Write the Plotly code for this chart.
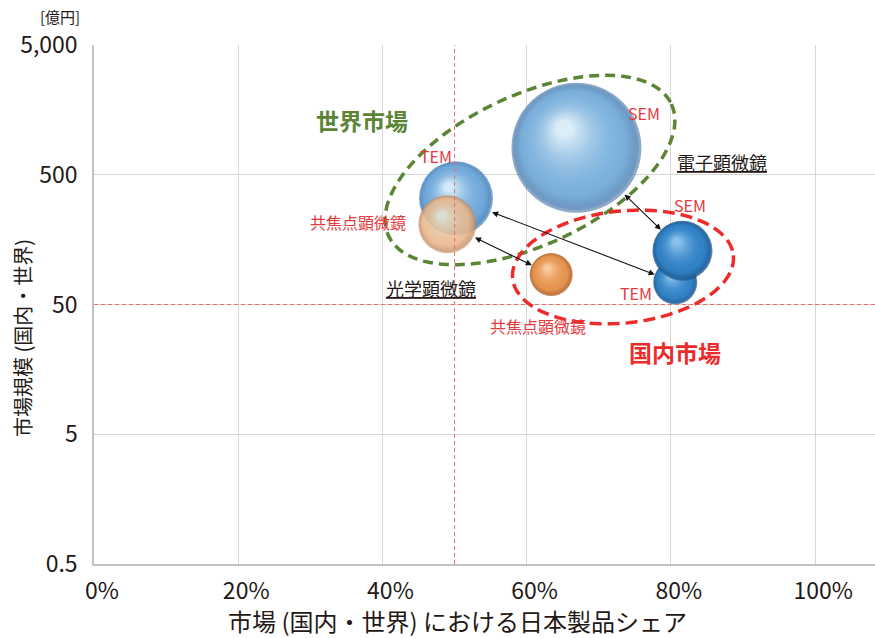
import math
import plotly.graph_objects as go

# ---- data -------------------------------------------------------------
bubble_names = ["TEM（国内）", "SEM（国内）", "光学（国内）", "SEM（世界）", "TEM（世界）", "共焦点（世界）"]
share_pct = [80.6, 81.6, 63.4, 66.9, 50.2, 49.0]          # 日本製品シェア [%]
market_oku = [74, 130, 85, 807, 329, 208]                 # 市場規模 [億円]
bubble_diam = [44, 60, 43, 130, 74, 58]                   # 円の直径 [px]
rim_col = ["#1f5b93", "#1c5589", "#ad6229", "#5e86b2", "#4f84b8", "#bf8960"]
body_col = ["#3383c6", "#3181c5", "#e69450", "#7cb1dc", "#72aadb", "#ebb98f"]
glint_col = ["#94c8ee", "#94caf0", "#f9d3a6", "#e8f5fc", "#def1fb", "#e6ecd8"]
bubble_opacity = [1, 1, 1, 1, 1, 0.88]

x_ticks = [0, 20, 40, 60, 80, 100]
x_tick_text = ["0%", "20%", "40%", "60%", "80%", "100%"]
y_ticks = [0.5, 5, 50, 500, 5000]
y_tick_text = ["0.5", "5", "50", "500", "5,000"]

# pairs (global -> domestic) joined by double arrows
arrow_pairs = [(4, 0), (5, 2), (3, 1)]

# ---- geometry ---------------------------------------------------------
W, H = 875, 638
ML, MR, MT, MB = 94, 0, 45, 74
L, R, T, B = ML, W - MR, MT, H - MB
XR = (0, 108.3)
YR = (math.log10(0.5), math.log10(5000))
DX_PER_PX = (XR[1] - XR[0]) / (R - L)
DLOG_PER_PX = (YR[1] - YR[0]) / (B - T)

FONT = "Noto Sans CJK JP"
TXT = "#231815"
RED = "#e8383d"
GREEN = "#5b8435"


def px_x(x):
    return L + (x - XR[0]) / (XR[1] - XR[0]) * (R - L)


def px_y(y):
    return B - (math.log10(y) - YR[0]) / (YR[1] - YR[0]) * (B - T)


def paper_x(p):
    return (p - L) / (R - L)


def paper_y(p):
    return (B - p) / (B - T)


def hex_rgb(h):
    h = h.lstrip("#")
    return [int(h[k:k + 2], 16) for k in (0, 2, 4)]


def mix(c1, c2, t):
    a, b = hex_rgb(c1), hex_rgb(c2)
    return "#" + "".join(f"{round(a[k] + (b[k] - a[k]) * t):02x}" for k in range(3))


fig = go.Figure()

# spheres: nested discs shrinking toward an upper-left glint give a 3D shading
N_LAYERS = 28
for i in range(len(bubble_names)):
    r = bubble_diam[i] / 2
    hx, hy = -0.22 * r, -0.34 * r          # glint offset in px (screen coords)
    xs, ys, sz, cols = [], [], [], []
    for k in range(N_LAYERS):
        s = 1 - k / N_LAYERS * 0.9        # radius ratio 1 -> 0.1
        t = 1 - s
        if t < 0.18:
            c = mix(rim_col[i], body_col[i], (t / 0.18) ** 0.7)
        else:
            c = mix(body_col[i], glint_col[i], ((t - 0.18) / 0.72) ** 1.8)
        ox, oy = t * hx, t * hy
        xs.append(share_pct[i] + ox * DX_PER_PX)
        ys.append(10 ** (math.log10(market_oku[i]) - oy * DLOG_PER_PX))
        sz.append(bubble_diam[i] * s)
        cols.append(c)
    fig.add_trace(go.Scatter(
        x=xs, y=ys, mode="markers", name=bubble_names[i], opacity=bubble_opacity[i],
        marker=dict(size=sz, color=cols, line=dict(width=0)),
        hoverinfo="name", showlegend=False))

shapes = []
# reference lines at 50% share and 50 億円
shapes.append(dict(type="line", xref="x", yref="paper", x0=50, x1=50, y0=0, y1=1,
                   line=dict(color="#e5716d", width=1, dash="4px,3px"), layer="above"))
shapes.append(dict(type="line", xref="paper", yref="y", x0=0, x1=1, y0=50, y1=50,
                   line=dict(color="#e5716d", width=1, dash="4px,3px"), layer="above"))


def ellipse_path(cx, cy, a, b, deg, n=120):
    th = math.radians(deg)
    pts = []
    for k in range(n + 1):
        t = 2 * math.pi * k / n
        px = cx + a * math.cos(t) * math.cos(th) + b * math.sin(t) * math.sin(th)
        py = cy - a * math.cos(t) * math.sin(th) + b * math.sin(t) * math.cos(th)
        pts.append(f"{paper_x(px):.5f},{paper_y(py):.5f}")
    return "M" + " L".join(pts) + " Z"


# 世界市場 / 国内市場 groupings
shapes.append(dict(type="path", xref="paper", yref="paper",
                   path=ellipse_path(530, 170, 156, 75, 25),
                   line=dict(color=GREEN, width=3.5, dash="10px,6px"), layer="above"))
shapes.append(dict(type="path", xref="paper", yref="paper",
                   path=ellipse_path(623, 267, 111, 56, 6),
                   line=dict(color="#ee2b2b", width=3.5, dash="12px,6px"), layer="above"))

annotations = []
# double arrows between global and domestic bubbles, edge to edge
for g, d in arrow_pairs:
    gx, gy = px_x(share_pct[g]), px_y(market_oku[g])
    dx, dy = px_x(share_pct[d]), px_y(market_oku[d])
    ln = math.hypot(dx - gx, dy - gy)
    ux, uy = (dx - gx) / ln, (dy - gy) / ln
    sx, sy = gx + ux * bubble_diam[g] / 2, gy + uy * bubble_diam[g] / 2
    ex, ey = dx - ux * bubble_diam[d] / 2, dy - uy * bubble_diam[d] / 2
    annotations.append(dict(xref="paper", yref="paper", x=paper_x(ex), y=paper_y(ey),
                            ax=sx - ex, ay=sy - ey, axref="pixel", ayref="pixel",
                            text="", showarrow=True, arrowside="end+start",
                            arrowhead=2, arrowsize=1.1, arrowwidth=1.1,
                            arrowcolor="#111111", standoff=0, startstandoff=0))


def label(x, y, text, color, size):
    annotations.append(dict(xref="x", yref="y", x=x, y=math.log10(y), text=text,
                            showarrow=False, font=dict(family=FONT, size=size, color=color),
                            xanchor="center", yanchor="middle"))


label(76.3, 1500, "SEM", RED, 16)
label(87.1, 630, "<u>電子顕微鏡</u>", TXT, 18)
label(47.4, 698, "TEM", RED, 16)
label(36.6, 216, "共焦点顕微鏡", RED, 16)
label(82.6, 292, "SEM", RED, 16)
label(75.2, 61.4, "TEM", RED, 16)
label(61.5, 34.1, "共焦点顕微鏡", RED, 16)
label(46.7, 67, "<u>光学顕微鏡</u>", TXT, 18)
label(37.2, 1321, "<b>世界市場</b>", GREEN, 23)
label(80.6, 21.5, "<b>国内市場</b>", "#ee2b2b", 23)

# axis titles and unit
annotations.append(dict(xref="paper", yref="paper", x=paper_x(457), y=paper_y(621),
                        text="市場 (国内・世界) における日本製品シェア", showarrow=False,
                        font=dict(family=FONT, size=24, color=TXT),
                        xanchor="center", yanchor="middle"))
annotations.append(dict(xref="paper", yref="paper", x=paper_x(22), y=paper_y(338),
                        text="市場規模 (国内・世界)", showarrow=False, textangle=-90,
                        font=dict(family=FONT, size=20, color=TXT),
                        xanchor="center", yanchor="middle"))
annotations.append(dict(xref="paper", yref="paper", x=paper_x(60), y=paper_y(17),
                        text="[億円]", showarrow=False,
                        font=dict(family=FONT, size=15, color=TXT),
                        xanchor="center", yanchor="middle"))

fig.update_layout(
    width=W, height=H, autosize=False,
    margin=dict(l=ML, r=MR, t=MT, b=MB, pad=0),
    paper_bgcolor="white", plot_bgcolor="white",
    font=dict(family=FONT, color=TXT),
    shapes=shapes, annotations=annotations,
    xaxis=dict(range=list(XR), tickvals=x_ticks, ticktext=x_tick_text,
               showgrid=True, gridcolor="#d6d6d6", gridwidth=1.3,
               showline=True, linecolor="#c2c2c2", linewidth=1.5,
               zeroline=False, ticks="", ticklabelstandoff=6, ticklabelshift=8,
               tickfont=dict(family=FONT, size=23, color=TXT)),
    yaxis=dict(type="log", range=list(YR), tickvals=y_ticks, ticktext=y_tick_text,
               showgrid=True, gridcolor="#d6d6d6", gridwidth=1.3,
               showline=True, linecolor="#c2c2c2", linewidth=1.5,
               zeroline=False, ticks="", ticklabelstandoff=10,
               tickfont=dict(family=FONT, size=23, color=TXT)),
)

fig.write_html("out.html")
